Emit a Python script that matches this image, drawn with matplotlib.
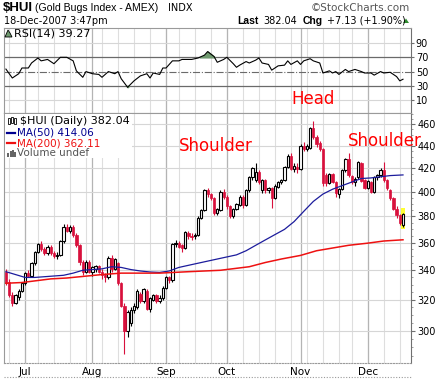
import matplotlib
matplotlib.use("Agg")
import matplotlib.pyplot as plt
import numpy as np
import pandas as pd
from matplotlib.patches import Rectangle, Polygon
from matplotlib.lines import Line2D
from matplotlib.ticker import FixedLocator, NullFormatter, FuncFormatter

# trading days 22-Jun-2007 .. 18-Dec-2007
dates = pd.bdate_range("2007-06-22", "2007-12-18")
dates = dates.drop(pd.to_datetime(["2007-07-04", "2007-09-03", "2007-11-22"]))

# daily OHLC (Jun | Jul | Aug | Sep | Oct | Nov | Dec)
opens = [339, 332, 323, 318, 322, 326,
         331, 338, 336, 345, 353, 359, 355, 352, 357, 352, 350, 351, 361, 372, 369, 372, 366, 358, 346, 339, 346,
         339, 341, 343, 339, 337, 335, 349, 341, 345, 331, 316, 300, 305, 313, 315, 324, 319, 326, 314, 320, 323, 319, 321,
         328, 335, 333, 359, 360, 358, 356, 367, 365, 365, 366, 379, 385, 401, 398, 395, 383, 385, 400,
         396, 388, 380, 386, 389, 396, 389, 401, 412, 410, 417, 401, 410, 401, 403, 395, 404, 408, 410, 421, 431, 419, 421,
         419, 440, 437, 438, 456, 448, 442, 437, 414, 407, 415, 408, 398, 402, 418, 428, 413, 408, 412, 424, 410,
         403, 408, 400, 412, 414, 418, 410, 401, 395, 386, 381, 373]
highs = [341, 334, 325, 324, 327, 332,
         339, 340, 346, 354, 360, 361, 357, 358, 358, 354, 353, 362, 374, 374, 373, 373, 367, 359, 347, 347, 347,
         343, 344, 344, 341, 338, 350, 351, 349, 346, 332, 318, 313, 315, 318, 327, 325, 328, 327, 322, 324, 324, 323, 329,
         336, 336, 360, 362, 361, 359, 369, 369, 367, 367, 380, 386, 402, 403, 399, 396, 387, 401, 402,
         397, 389, 387, 391, 397, 397, 402, 413, 421, 424, 418, 411, 411, 404, 404, 406, 409, 411, 422, 432, 433, 424, 424,
         441, 443, 441, 457, 463, 450, 444, 438, 416, 416, 416, 409, 403, 419, 429, 433, 414, 412, 426, 425, 411,
         410, 409, 413, 415, 420, 425, 411, 402, 396, 388, 382, 383]
lows = [330, 322, 316, 317, 320, 325,
        330, 335, 335, 344, 352, 354, 351, 351, 351, 349, 348, 350, 360, 368, 367, 364, 357, 344, 337, 338, 338,
        336, 339, 338, 334, 332, 334, 339, 340, 330, 315, 286, 296, 303, 311, 314, 318, 318, 313, 312, 319, 318, 318, 320,
        327, 331, 332, 357, 356, 353, 355, 363, 362, 363, 365, 378, 384, 396, 393, 381, 381, 384, 394,
        386, 379, 379, 385, 388, 387, 388, 400, 410, 408, 406, 399, 399, 399, 387, 394, 403, 406, 409, 420, 418, 417, 416,
        418, 435, 435, 437, 446, 439, 435, 405, 405, 406, 407, 396, 395, 401, 417, 412, 406, 405, 411, 408, 402,
        402, 399, 399, 410, 412, 408, 401, 393, 385, 379, 373, 372]
closes = [331, 323, 318, 323, 326, 331,
          338, 336, 345, 353, 359, 355, 352, 357, 352, 350, 351, 361, 372, 369, 372, 366, 358, 346, 339, 346, 339,
          342, 343, 339, 337, 335, 349, 341, 348, 331, 316, 300, 312, 313, 316, 326, 319, 327, 314, 321, 323, 319, 321, 328,
          335, 333, 359, 360, 357, 356, 368, 365, 364, 366, 379, 385, 401, 398, 395, 383, 386, 400, 396,
          388, 380, 386, 390, 396, 389, 401, 412, 420, 417, 408, 410, 401, 403, 395, 405, 408, 410, 421, 431, 419, 422, 419,
          440, 437, 440, 456, 448, 441, 437, 407, 407, 415, 408, 399, 402, 418, 428, 414, 408, 411, 425, 409, 403,
          409, 400, 412, 414, 418, 410, 403, 395, 386, 381, 374.91, 382.04]

# moving averages, read at sampled trading days
ma50_day = [0, 3, 6, 9, 12, 15, 18, 21, 24, 27, 30, 33, 36, 39, 42, 45, 48, 51, 54, 57, 60, 63, 66, 69, 72,
            75, 78, 81, 84, 87, 90, 93, 96, 99, 102, 105, 108, 111, 114, 117, 120, 124]
ma50_val = [339, 337, 335, 335, 335.5, 336, 336.5, 338, 340, 340.5, 341, 342.5, 342, 340.5, 339.5, 338.8, 338.5,
            339.5, 342, 343.5, 345, 346.5, 348, 349.5, 351, 354, 358, 362, 366, 370, 376, 384, 392, 398, 402,
            405, 408, 411, 411.5, 412.5, 413.5, 414.06]
ma200_day = [0, 5, 14, 19, 30, 36, 48, 57, 67, 76, 81, 86, 92, 97, 102, 107, 113, 118, 124]
ma200_val = [331, 331.5, 334, 334.6, 337, 338, 338, 339, 340, 342.5, 345.5, 348, 350.6, 354, 356, 358, 359.6,
             361.2, 362.11]

# RSI(14)
rsi_day = [0, 2, 4, 5, 7, 8, 10, 11, 13, 15, 17, 19, 21, 22, 24, 25, 27, 29, 30, 32, 34, 35, 36, 38, 40, 42, 44,
           45, 46, 48, 49, 50, 52, 54, 55, 58, 60, 62, 63, 65, 66, 68, 69, 71, 72, 73, 75, 76, 78, 79, 80, 82,
           83, 85, 87, 88, 89, 91, 92, 93, 95, 96, 98, 99, 101, 102, 103, 104, 106, 107, 109, 111, 112, 114,
           115, 117, 118, 120, 122, 123, 124]
rsi_val = [53.5, 41, 47, 55, 55, 62, 69, 65, 67, 61, 70, 70, 65, 51, 42, 50, 47, 46, 42, 50, 47, 50, 40, 28, 37,
           44, 47, 41, 48, 46, 55, 55, 65, 65, 67, 67, 69, 73, 78, 71, 63, 67, 70, 61, 56, 59, 64, 62, 66, 69,
           62, 60, 52, 58, 59, 65, 60, 65, 60, 65, 68, 65, 62, 48, 51, 48, 50, 46, 53, 50, 53, 50, 48, 48, 45,
           50, 48, 49, 43, 37, 39.27]

W, H = 437, 379
RED = "#d8103c"
NAVY = "#1c1c9c"
HEAD_FONT = "Liberation Sans"

def fx(x):
    return x / W

def fy(y):
    return 1 - y / H

n = len(dates)
x = np.arange(n)
o, h, l, c = (np.array(v, dtype=float) for v in (opens, highs, lows, closes))

fig = plt.figure(figsize=(W / 100, H / 100), dpi=100)
ax_rsi = fig.add_axes([fx(4), fy(113), (411 - 4) / W, (113 - 28) / H])
ax = fig.add_axes([fx(4), fy(363), (411 - 4) / W, (363 - 113) / H])

week_starts = [i for i in range(1, n) if dates[i].weekday() < dates[i - 1].weekday()]
month_starts = [i for i in range(1, n) if dates[i].month != dates[i - 1].month]
for a in (ax, ax_rsi):
    for i in week_starts:
        a.axvline(i, color="#dedede", lw=0.8, zorder=0)
    for i in month_starts:
        a.axvline(i, color="#b4b4b4", lw=0.9, zorder=0)
    a.set_xlim(-0.6, 126.5)
    for s in a.spines.values():
        s.set_color("#9a9a9a")
        s.set_linewidth(0.8)
    a.spines["right"].set_color("#707070")

# ---- RSI panel
ax_rsi.set_ylim(-8, 111)
for v in (90, 10):
    ax_rsi.axhline(v, color="#d6d6d6", lw=0.8, zorder=0)
ax_rsi.axhline(70, color="#6a6a6a", lw=0.9, zorder=1)
ax_rsi.axhline(30, color="#6a6a6a", lw=0.9, zorder=1)
ax_rsi.axhline(50, color="#6a6a6a", lw=0.8, ls="-.", zorder=1)
rx = np.array(rsi_day)
ry = np.array(rsi_val)
ax_rsi.fill_between(rx, ry, 70, where=ry > 70, interpolate=True, color="#6f9a6f", zorder=2)
ax_rsi.fill_between(rx, ry, 30, where=ry < 30, interpolate=True, color="#6f9a6f", zorder=2)
ax_rsi.plot(rx, ry, color="black", lw=0.8, zorder=3)
ax_rsi.yaxis.tick_right()
ax_rsi.set_yticks([10, 30, 50, 70, 90])
ax_rsi.set_xticks([])
ax_rsi.tick_params(axis="y", labelsize=7, length=2, pad=1.5, color="#707070")

# ---- price panel
ax.set_yscale("log")
ax.set_ylim(280.7, 470.6)
for v in range(300, 461, 20):
    ax.axhline(v, color="#d6d6d6", lw=0.8, zorder=0)
ax.add_patch(Rectangle((n - 1 - 0.65, 370.5), 1.3, 16, facecolor="#ffff33", edgecolor="none", zorder=1))
up = c >= o
ax.vlines(x[up], l[up], h[up], color="black", lw=0.8, zorder=2)
ax.vlines(x[~up], l[~up], h[~up], color=RED, lw=0.8, zorder=2)
ax.bar(x[up], np.maximum(c[up] - o[up], 0.3), bottom=o[up], width=0.72,
       facecolor="white", edgecolor="black", lw=0.8, zorder=3)
ax.bar(x[~up], o[~up] - c[~up], bottom=c[~up], width=0.72,
       facecolor=RED, edgecolor=RED, lw=0.5, zorder=3)
ax.plot(ma50_day, ma50_val, color=NAVY, lw=0.9, zorder=4)
ax.plot(ma200_day, ma200_val, color="#ee1111", lw=1.1, zorder=4)

ax.yaxis.tick_right()
ax.yaxis.set_major_locator(FixedLocator(list(range(300, 461, 20))))
ax.yaxis.set_major_formatter(FuncFormatter(lambda v, p: f"{v:.0f}"))
ax.yaxis.set_minor_locator(FixedLocator(list(range(285, 471, 5))))
ax.yaxis.set_minor_formatter(NullFormatter())
ax.tick_params(axis="y", which="major", labelsize=7, length=3, pad=1.5, color="#707070")
ax.tick_params(axis="y", which="minor", length=1.5, color="#909090")
ax.set_xticks(month_starts)
ax.set_xticklabels([dates[i].strftime("%b") for i in month_starts])
ax.tick_params(axis="x", labelsize=7.5, length=0, pad=3)
ax.spines["bottom"].set_linestyle((0, (1, 1.5)))
fig.add_artist(Line2D([fx(4), fx(411)], [fy(377), fy(377)], color="#9a9a9a", lw=0.8, ls=(0, (1, 1.5))))

# legend box of the price panel
fig.add_artist(Rectangle((fx(5), fy(158)), fx(127), 44 / H, facecolor="white", edgecolor="none", zorder=2))
fig.text(fx(20), fy(121), "$HUI (Daily) 382.04", fontsize=8, va="center", zorder=3)
fig.text(fx(17), fy(132.5), "MA(50) 414.06", fontsize=7.5, va="center", color="#000090", zorder=3)
fig.text(fx(17), fy(143), "MA(200) 362.11", fontsize=7.5, va="center", color="#ee1111", zorder=3)
fig.text(fx(17), fy(153), "Volume undef", fontsize=7.5, va="center", color="#555555", zorder=3)
fig.add_artist(Line2D([fx(7), fx(15)], [fy(132.5)] * 2, color="#000090", lw=1.6, zorder=3))
fig.add_artist(Line2D([fx(7), fx(15)], [fy(143)] * 2, color="#ee1111", lw=1.6, zorder=3))
for bx, bh in ((8, 4), (10.5, 6), (13, 7), (15.5, 5)):
    fig.add_artist(Rectangle((fx(bx - 1), fy(157)), 2 / W, bh / H, facecolor="#666666", edgecolor="none", zorder=3))
for bx, b0, b1 in ((9, 118, 124), (12, 117, 123), (15, 118, 124)):
    fig.add_artist(Rectangle((fx(bx - 1), fy(b1)), 2.2 / W, (b1 - b0) / H, facecolor="white",
                             edgecolor="black", lw=0.6, zorder=3))

# RSI label with its icon
fig.add_artist(Polygon([(fx(5), fy(37)), (fx(8), fy(30)), (fx(10), fy(33)), (fx(12), fy(37))],
                       closed=True, facecolor="#6f9a6f", edgecolor="black", lw=0.6))
fig.text(fx(13.5), fy(33.5), "RSI(14) 39.27", fontsize=8, va="center")

# header
fig.text(fx(3), fy(8), "$HUI", fontsize=9.5, fontweight="bold", va="center", family=HEAD_FONT)
fig.text(fx(35), fy(8), "(Gold Bugs Index - AMEX)", fontsize=7.6, va="center", family=HEAD_FONT)
fig.text(fx(168), fy(8), "INDX", fontsize=7, va="center")
fig.text(fx(410), fy(8), "\u00a9StockCharts.com", fontsize=7.5, va="center", ha="right", color="#555555")
fig.text(fx(4), fy(20.5), "18-Dec-2007 3:47pm", fontsize=7, va="center")
fig.text(fx(237), fy(20.5), "Last", fontsize=7.5, fontweight="bold", va="center", family=HEAD_FONT)
fig.text(fx(263), fy(20.5), "382.04", fontsize=7, va="center")
fig.text(fx(303), fy(20.5), "Chg", fontsize=7.5, fontweight="bold", va="center", family=HEAD_FONT)
fig.text(fx(327), fy(20.5), "+7.13 (+1.90%)", fontsize=7, va="center")
fig.add_artist(Polygon([(fx(403), fy(23)), (fx(406), fy(18.5)), (fx(409), fy(23))],
                       closed=True, facecolor="#2e8b2e", edgecolor="none"))

# pattern annotations
fig.text(fx(313), fy(99), "Head", fontsize=12, color="red", ha="center", va="center", zorder=5)
fig.text(fx(216), fy(146), "Shoulder", fontsize=12, color="red", ha="center", va="center", zorder=5)
fig.text(fx(385), fy(141), "Shoulder", fontsize=12, color="red", ha="center", va="center", zorder=5)

fig.savefig("out.png", dpi=100)
